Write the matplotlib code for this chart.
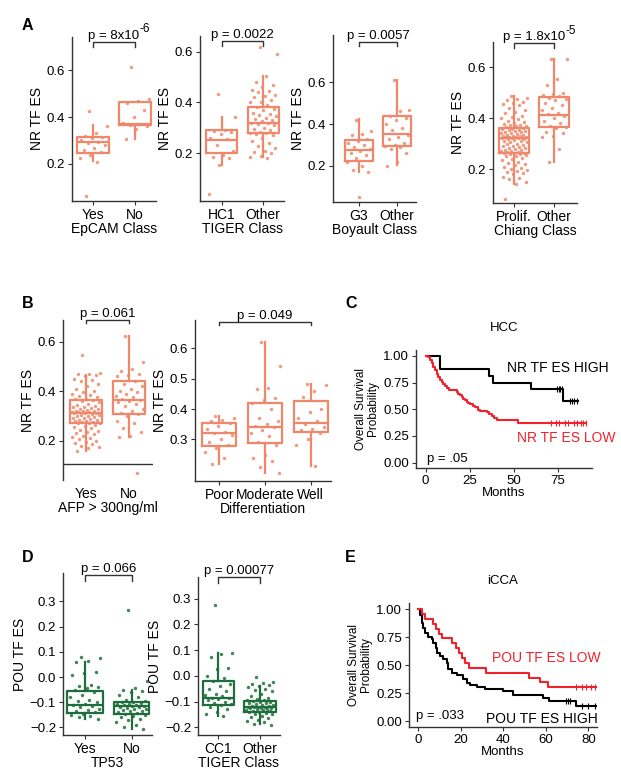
import numpy as np
import matplotlib.pyplot as plt

plt.rcParams['font.family'] = ['Liberation Sans', 'DejaVu Sans']

SALMON = '#F0876A'
GREEN = '#1E6E3C'
AX = '#333333'

# ---------- data: panel A ----------
epcam_labels = ['Yes', 'No']
epcam_yes = [0.426, 0.36, 0.33, 0.32, 0.315, 0.31, 0.30, 0.295, 0.29, 0.28, 0.27, 0.26,
             0.25, 0.24, 0.225, 0.21, 0.064]
epcam_no = [0.615, 0.478, 0.47, 0.46, 0.43, 0.40, 0.375, 0.37, 0.365, 0.362, 0.35, 0.307]
# q1, median, q3, whisker low, whisker high
epcam_box = [(0.247, 0.293, 0.314, 0.214, 0.364), (0.364, 0.371, 0.464, 0.307, 0.464)]

tiger_labels = ['HC1', 'Other']
tiger_hc1 = [0.433, 0.343, 0.29, 0.288, 0.285, 0.275, 0.26, 0.255, 0.233, 0.21, 0.195,
             0.187, 0.18, 0.154, 0.039]
tiger_other = [0.617, 0.59, 0.505, 0.48, 0.47, 0.46, 0.45, 0.445, 0.44, 0.43, 0.425, 0.42,
               0.41, 0.40, 0.40, 0.39, 0.38, 0.375, 0.37, 0.36, 0.355, 0.35, 0.345, 0.34,
               0.335, 0.33, 0.325, 0.32, 0.32, 0.315, 0.31, 0.30, 0.295, 0.29, 0.285, 0.28,
               0.278, 0.275, 0.27, 0.26, 0.25, 0.24, 0.23, 0.22, 0.21, 0.205, 0.2, 0.19,
               0.187, 0.18]
tiger_box = [(0.200, 0.254, 0.291, 0.154, 0.341), (0.278, 0.321, 0.383, 0.187, 0.504)]

boyault_labels = ['G3', 'Other']
boyault_g3 = [0.42, 0.365, 0.355, 0.35, 0.33, 0.32, 0.31, 0.30, 0.29, 0.28, 0.27, 0.26,
              0.25, 0.24, 0.22, 0.20, 0.18, 0.17, 0.051]
boyault_other = [0.61, 0.47, 0.465, 0.44, 0.43, 0.42, 0.40, 0.38, 0.37, 0.35, 0.34, 0.33,
                 0.31, 0.30, 0.295, 0.29, 0.28, 0.26, 0.22, 0.20]
boyault_box = [(0.222, 0.275, 0.326, 0.171, 0.427), (0.296, 0.352, 0.438, 0.203, 0.611)]

chiang_labels = ['Prolif.', 'Other']
chiang_prolif = [0.485, 0.48, 0.475, 0.47, 0.465, 0.46, 0.455, 0.45, 0.44, 0.43, 0.425,
                 0.42, 0.41, 0.405, 0.40, 0.395, 0.39, 0.385, 0.38, 0.378, 0.375, 0.372,
                 0.37, 0.368, 0.365, 0.36, 0.358, 0.356, 0.354, 0.352, 0.35, 0.348, 0.346,
                 0.344, 0.342, 0.34, 0.338, 0.336, 0.334, 0.332, 0.33, 0.33, 0.328, 0.327,
                 0.326, 0.325, 0.324, 0.323, 0.323, 0.322, 0.32, 0.318, 0.315, 0.312, 0.31,
                 0.307, 0.305, 0.30, 0.298, 0.295, 0.292, 0.29, 0.287, 0.285, 0.282, 0.28,
                 0.277, 0.275, 0.272, 0.27, 0.268, 0.266, 0.265, 0.264, 0.263, 0.26, 0.258,
                 0.255, 0.252, 0.25, 0.245, 0.24, 0.235, 0.23, 0.225, 0.22, 0.215, 0.21,
                 0.205, 0.20, 0.198, 0.195, 0.19, 0.185, 0.18, 0.17, 0.165, 0.16, 0.15,
                 0.144, 0.085]
chiang_other = [0.633, 0.63, 0.555, 0.53, 0.50, 0.495, 0.49, 0.485, 0.48, 0.475, 0.47,
                0.46, 0.45, 0.44, 0.43, 0.42, 0.415, 0.41, 0.40, 0.39, 0.38, 0.37, 0.365,
                0.36, 0.345, 0.34, 0.33, 0.325, 0.28, 0.228]
chiang_box = [(0.263, 0.322, 0.362, 0.144, 0.485), (0.365, 0.414, 0.482, 0.228, 0.633)]

# ---------- data: panel B ----------
afp_labels = ['Yes', 'No']
afp_yes = [0.545, 0.475, 0.47, 0.47, 0.465, 0.46, 0.45, 0.445, 0.44, 0.43, 0.42, 0.41,
           0.40, 0.395, 0.39, 0.385, 0.38, 0.375, 0.37, 0.368, 0.365, 0.36, 0.355, 0.35,
           0.345, 0.34, 0.338, 0.335, 0.332, 0.33, 0.328, 0.325, 0.322, 0.32, 0.318,
           0.316, 0.315, 0.314, 0.313, 0.312, 0.31, 0.308, 0.305, 0.303, 0.30, 0.298,
           0.295, 0.293, 0.29, 0.288, 0.285, 0.283, 0.28, 0.278, 0.276, 0.274, 0.272,
           0.271, 0.27, 0.265, 0.26, 0.255, 0.25, 0.245, 0.24, 0.235, 0.23, 0.225, 0.22,
           0.215, 0.21, 0.205, 0.20, 0.195, 0.19, 0.185, 0.18, 0.175, 0.17, 0.16]
afp_no = [0.623, 0.52, 0.49, 0.48, 0.47, 0.465, 0.46, 0.44, 0.43, 0.42, 0.41, 0.40, 0.395,
          0.39, 0.38, 0.375, 0.37, 0.366, 0.36, 0.355, 0.35, 0.34, 0.33, 0.32, 0.31, 0.307,
          0.30, 0.28, 0.27, 0.25, 0.235, 0.22, 0.216, 0.07]
afp_box = [(0.270, 0.312, 0.366, 0.160, 0.465), (0.307, 0.366, 0.441, 0.216, 0.623)]

diff_labels = ['Poor', 'Moderate', 'Well']
diff_poor = [0.378, 0.37, 0.365, 0.36, 0.355, 0.345, 0.335, 0.325, 0.32, 0.315, 0.30, 0.29,
             0.28, 0.27, 0.26, 0.24, 0.219]
diff_moderate = [0.619, 0.54, 0.47, 0.465, 0.435, 0.43, 0.42, 0.40, 0.37, 0.36, 0.35,
                 0.345, 0.34, 0.33, 0.32, 0.31, 0.29, 0.28, 0.25, 0.24, 0.23, 0.21, 0.19]
diff_well = [0.483, 0.48, 0.46, 0.44, 0.40, 0.39, 0.37, 0.36, 0.35, 0.34, 0.335, 0.33,
             0.32, 0.30, 0.28, 0.214]
diff_box = [(0.277, 0.320, 0.354, 0.219, 0.378), (0.288, 0.342, 0.420, 0.190, 0.619),
            (0.325, 0.354, 0.425, 0.214, 0.483)]

# ---------- data: panel C (HCC survival) ----------
hcc_high_t = [0, 8.1, 36, 38.5, 59.8, 78]
hcc_high_s = [1.0, 0.875, 0.8125, 0.75, 0.6875, 0.573]
hcc_high_end = 86.3
hcc_high_cens = [(74.5, 0.6875), (75.5, 0.6875), (76.5, 0.6875), (77.5, 0.6875),
                 (82, 0.573), (83, 0.573), (84.5, 0.573), (86, 0.573)]
hcc_low_t = [0, 1.5, 2.5, 3.5, 4.3, 5.3, 6.2, 7.2, 8.1, 9, 10, 11, 12, 13, 17.6, 18.5,
             19.5, 20.5, 21.4, 22.4, 23.3, 24.2, 25.2, 27, 28.1, 29.9, 31, 34.7, 36, 37.5,
             39, 40.4, 52.7]
hcc_low_s = [1.0, 0.985, 0.96, 0.93, 0.90, 0.87, 0.83, 0.80, 0.775, 0.76, 0.74, 0.72, 0.70,
             0.68, 0.66, 0.645, 0.63, 0.615, 0.60, 0.585, 0.57, 0.56, 0.55, 0.535, 0.52,
             0.49, 0.48, 0.47, 0.455, 0.44, 0.42, 0.40, 0.37]
hcc_low_end = 91
hcc_low_cens = [(71, 0.37), (74, 0.37), (76, 0.37), (79, 0.37), (81, 0.37), (84, 0.37),
                (86, 0.37), (88, 0.37), (89.5, 0.37), (91, 0.37)]

# ---------- data: panel D ----------
tp53_labels = ['Yes', 'No']
tp53_yes = [0.08, 0.075, 0.065, 0.06, 0.02, 0.015, 0.01, -0.03, -0.035, -0.04, -0.045,
            -0.05, -0.06, -0.07, -0.08, -0.09, -0.095, -0.10, -0.105, -0.11, -0.115,
            -0.12, -0.125, -0.13, -0.135, -0.14, -0.145, -0.15, -0.155, -0.16, -0.166]
tp53_no = [0.265, -0.015, -0.045, -0.05, -0.055, -0.06, -0.07, -0.08, -0.09, -0.095,
           -0.098, -0.10, -0.102, -0.105, -0.108, -0.11, -0.112, -0.114, -0.115, -0.117,
           -0.12, -0.122, -0.125, -0.128, -0.13, -0.133, -0.136, -0.14, -0.143, -0.146,
           -0.15, -0.155, -0.16, -0.165, -0.17, -0.18, -0.19, -0.2, -0.206]
tp53_box = [(-0.143, -0.109, -0.057, -0.166, 0.060), (-0.146, -0.115, -0.099, -0.206, -0.050)]

cc1_labels = ['CC1', 'Other']
cc1_cc1 = [0.275, 0.09, 0.085, 0.075, 0.03, 0.028, 0.0, -0.01, -0.02, -0.03, -0.04, -0.05,
           -0.06, -0.07, -0.075, -0.08, -0.085, -0.087, -0.09, -0.095, -0.10, -0.105,
           -0.11, -0.112, -0.12, -0.13, -0.14, -0.15, -0.158]
cc1_other = [-0.005, -0.025, -0.028, -0.03, -0.035, -0.039, -0.045, -0.05, -0.055, -0.06,
             -0.07, -0.08, -0.085, -0.09, -0.093, -0.095, -0.097, -0.10, -0.102, -0.105,
             -0.107, -0.11, -0.112, -0.114, -0.116, -0.118, -0.12, -0.121, -0.122, -0.123,
             -0.124, -0.125, -0.126, -0.128, -0.13, -0.132, -0.134, -0.136, -0.138, -0.14,
             -0.142, -0.145, -0.148, -0.15, -0.155, -0.16, -0.165, -0.17, -0.175, -0.18,
             -0.188, -0.19]
cc1_box = [(-0.113, -0.087, -0.022, -0.158, 0.090), (-0.140, -0.123, -0.097, -0.188, -0.039)]

# ---------- data: panel E (iCCA survival) ----------
icca_low_t = [0, 1.5, 3, 7, 8.5, 9.5, 11, 16, 17.5, 19, 20.5, 22, 24, 32, 52, 57, 61]
icca_low_s = [1.0, 0.957, 0.913, 0.87, 0.826, 0.783, 0.739, 0.696, 0.652, 0.609, 0.565,
              0.522, 0.478, 0.435, 0.391, 0.348, 0.304]
icca_low_end = 84
icca_low_cens = [(74, 0.304), (77, 0.304), (79, 0.304), (81, 0.304), (83, 0.304)]
icca_high_t = [0, 0.8, 1.6, 2.4, 3.1, 4.7, 6.3, 7, 8.3, 8.9, 10.2, 11.8, 13.3, 14.1, 15.7,
               18, 21.2, 22.7, 24.3, 27.5, 31.4, 40, 44.7, 58.5, 61.2, 74]
icca_high_s = [1.0, 0.95, 0.875, 0.83, 0.79, 0.756, 0.73, 0.70, 0.65, 0.61, 0.58, 0.56,
               0.52, 0.47, 0.43, 0.41, 0.375, 0.34, 0.325, 0.31, 0.286, 0.27, 0.235, 0.205,
               0.18, 0.14]
icca_high_end = 84
icca_high_cens = [(69.5, 0.18), (70.5, 0.18), (71.5, 0.18), (77, 0.14), (80, 0.14), (83, 0.14)]

# ---------- drawing helpers ----------
W, H = 621, 777
fig = plt.figure(figsize=(W / 100, H / 100), dpi=100)


def add_ax(l, t, r, b):
    return fig.add_axes([l / W, 1 - b / H, (r - l) / W, (b - t) / H])


def style(ax):
    for s in ['top', 'right']:
        ax.spines[s].set_visible(False)
    for s in ['left', 'bottom']:
        ax.spines[s].set_color(AX)
        ax.spines[s].set_linewidth(1.0)
    ax.tick_params(colors=AX, labelcolor='black', labelsize=9.5, length=3, width=0.8, pad=2)


def jitter(n, spread=0.33):
    return ((np.arange(n) * 0.618034 + 0.37) % 1 - 0.5) * 2 * spread


def box_panel(ax, groups, boxes, labels, color, ylim, yticks, xlim, ylabel, xlabel,
              ptext, pwhere, yticklabels=None, pexp=None):
    style(ax)
    for i, g in enumerate(groups):
        x = i + 1 + jitter(len(g))
        ax.scatter(x, g, s=6, color=color, alpha=0.85, linewidths=0, zorder=2)
    stats = [dict(q1=b[0], med=b[1], q3=b[2], whislo=b[3], whishi=b[4], fliers=[])
             for b in boxes]
    lp = dict(color=color, linewidth=1.6)
    ax.bxp(stats, positions=range(1, len(groups) + 1), widths=0.75, showcaps=False,
           showfliers=False, boxprops=lp, whiskerprops=lp, medianprops=lp, zorder=3)
    ax.set_xlim(*xlim)
    ax.set_ylim(*ylim)
    ax.set_yticks(yticks)
    if yticklabels is not None:
        ax.set_yticklabels(yticklabels)
    ax.set_xticks(range(1, len(groups) + 1))
    ax.set_xticklabels(labels, fontsize=10)
    ax.set_ylabel(ylabel, fontsize=10, labelpad=2)
    ax.set_xlabel(xlabel, fontsize=10, labelpad=0)
    x1, x2, y, drop = pwhere
    ax.plot([x1, x1, x2, x2], [y - drop, y, y, y - drop], color=AX, lw=1.0, clip_on=False)
    t = ax.text((x1 + x2) / 2, y, ptext, ha='center', va='bottom', fontsize=9.5,
                clip_on=False)
    if pexp is not None:
        ax.annotate(pexp, xy=(1, 0.55), xycoords=t, xytext=(0.3, 0),
                    textcoords='offset points', ha='left', va='bottom', fontsize=8.5,
                    annotation_clip=False)


def km_panel(ax, curves, xlim, xticks, title):
    style(ax)
    for t, s, end, cens, color in curves:
        ax.step(list(t) + [end], list(s) + [s[-1]], where='post', color=color, lw=1.5)
        ax.plot([c[0] for c in cens], [c[1] for c in cens], ls='none', marker='|', ms=4,
                mew=0.8, color=color)
    ax.set_xlim(*xlim)
    ax.set_ylim(-0.05, 1.055)
    ax.set_xticks(xticks)
    ax.set_yticks([0, 0.25, 0.5, 0.75, 1.0])
    ax.set_yticklabels(['0.00', '0.25', '0.50', '0.75', '1.00'])
    ax.set_xlabel('Months', fontsize=9.5, labelpad=0)
    ax.set_ylabel('Overall Survival\nProbability', fontsize=8.5, labelpad=3, linespacing=1.0)
    ax.set_title(title, fontsize=9.5, pad=14)


# ---------- panel A ----------
ax = add_ax(72, 37, 156, 201)
box_panel(ax, [epcam_yes, epcam_no], epcam_box, epcam_labels, SALMON, (0.042, 0.741),
          [0.2, 0.4, 0.6], (0.5, 2.5), 'NR TF ES', 'EpCAM Class',
          'p = 8x10', (1, 2, 0.72, 0.02), pexp='-6')

ax = add_ax(200, 36, 284, 201)
box_panel(ax, [tiger_hc1, tiger_other], tiger_box, tiger_labels, SALMON, (0.0125, 0.661),
          [0.2, 0.4, 0.6], (0.48, 2.5), 'NR TF ES', 'TIGER Class',
          'p = 0.0022', (1, 2, 0.643, 0.02))

ax = add_ax(333, 35, 416, 202)
box_panel(ax, [boyault_g3, boyault_other], boyault_box, boyault_labels, SALMON,
          (0.027, 0.827), [0.2, 0.4, 0.6], (0.32, 2.5), 'NR TF ES', 'Boyault Class',
          'p = 0.0057', (1, 2, 0.795, 0.02))

ax = add_ax(493, 42, 577, 203)
box_panel(ax, [chiang_prolif, chiang_other], chiang_box, chiang_labels, SALMON,
          (0.068, 0.698), [0.2, 0.4, 0.6], (0.475, 2.57), 'NR TF ES', 'Chiang Class',
          'p = 1.8x10', (1, 2, 0.693, 0.02), pexp='-5')

# ---------- panel B ----------
ax = add_ax(63, 320, 153, 480)
box_panel(ax, [afp_yes, afp_no], afp_box, afp_labels, SALMON, (0.041, 0.688),
          [0.2, 0.4, 0.6], (0.47, 2.55), 'NR TF ES', 'AFP > 300ng/ml',
          'p = 0.061', (1, 2, 0.69, 0.015))
ax.spines['bottom'].set_visible(False)
ax.axhline(0.104, color=AX, lw=1.0)
ax.tick_params(axis='x', length=0, pad=5)

ax = add_ax(195, 320, 331, 481)
box_panel(ax, [diff_poor, diff_moderate, diff_well], diff_box, diff_labels, SALMON,
          (0.163, 0.693), [0.3, 0.4, 0.5, 0.6], (0.47, 3.44), 'NR TF ES', 'Differentiation',
          'p = 0.049', (1, 3, 0.688, 0.012))

# ---------- panel C ----------
ax = add_ax(416, 350, 592, 468)
km_panel(ax, [(hcc_high_t, hcc_high_s, hcc_high_end, hcc_high_cens, 'black'),
              (hcc_low_t, hcc_low_s, hcc_low_end, hcc_low_cens, '#F2212B')],
         (-5.5, 94.5), [0, 25, 50, 75], 'HCC')
ax.text(46, 0.89, 'NR TF ES HIGH', fontsize=10, color='black', va='center', clip_on=False)
ax.text(52, 0.23, 'NR TF ES LOW', fontsize=10, color='#F2212B', va='center', clip_on=False)
ax.text(0.7, 0.03, 'p = .05', fontsize=9.5, va='center')

# ---------- panel D ----------
dticks = [-0.2, -0.1, 0.0, 0.1, 0.2, 0.3]
dlabels = ['\u22120.2', '\u22120.1', '0.0', '0.1', '0.2', '0.3']
ax = add_ax(63, 573, 152, 735)
box_panel(ax, [tp53_yes, tp53_no], tp53_box, tp53_labels, GREEN, (-0.23, 0.413), dticks,
          (0.53, 2.43), 'POU TF ES', 'TP53', 'p = 0.066', (1, 2, 0.406, 0.025),
          yticklabels=dlabels)

ax = add_ax(198, 577, 280, 735)
box_panel(ax, [cc1_cc1, cc1_other], cc1_box, cc1_labels, GREEN, (-0.23, 0.384), dticks,
          (0.51, 2.48), 'POU TF ES', 'TIGER Class', 'p = 0.00077', (1, 2, 0.384, 0.025),
          yticklabels=dlabels)

# ---------- panel E ----------
ax = add_ax(409, 603, 597, 727)
km_panel(ax, [(icca_high_t, icca_high_s, icca_high_end, icca_high_cens, 'black'),
              (icca_low_t, icca_low_s, icca_low_end, icca_low_cens, '#F2212B')],
         (-4.4, 84), [0, 20, 40, 60, 80], 'iCCA')
ax.text(34.5, 0.565, 'POU TF ES LOW', fontsize=10, color='#F2212B', va='center')
ax.text(32, 0.02, 'POU TF ES HIGH', fontsize=10, color='black', va='center')
ax.text(-1, 0.05, 'p = .033', fontsize=9.5, va='center')

# ---------- panel letters ----------
for letter, x, y in [('A', 22, 25), ('B', 22, 303), ('C', 345, 303), ('D', 22, 558),
                     ('E', 345, 558)]:
    fig.text(x / W, 1 - y / H, letter, fontsize=11.5, fontweight='bold', va='center')

fig.savefig('out.png', dpi=100)
